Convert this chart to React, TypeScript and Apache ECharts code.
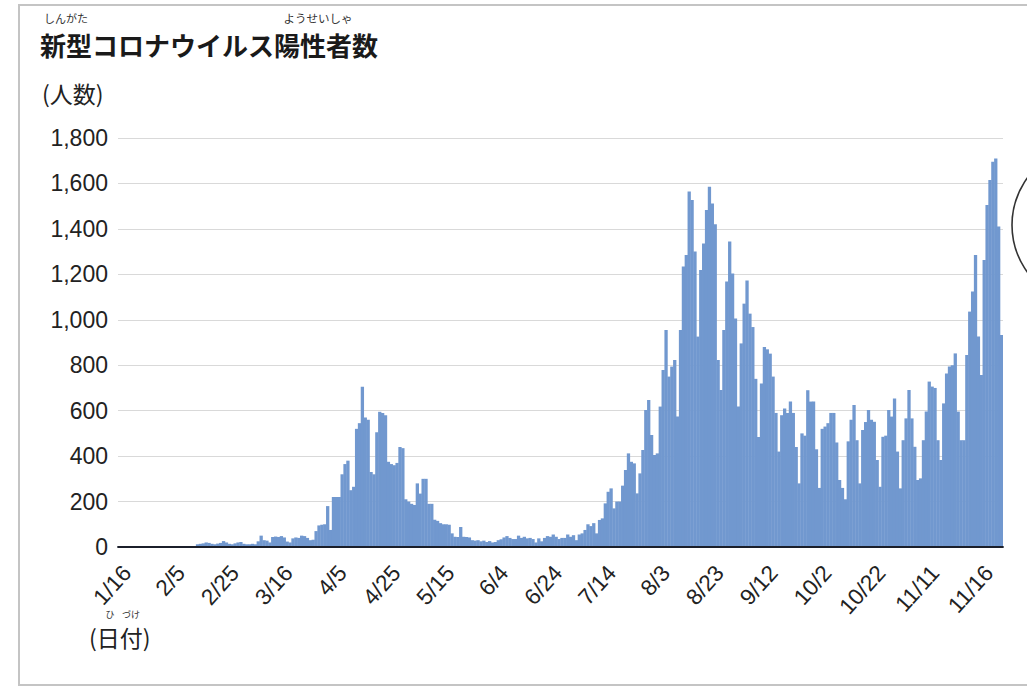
import React, { useEffect, useRef } from "react";
import * as echarts from "echarts";

// Daily new positive cases, 2020/1/16 - 2020/11/16
const jan = [1, 0, 0, 0, 0, 0, 0, 0, 1, 1, 1, 0, 2, 1, 3, 2]; // 1/16 - 1/31
const feb = [1, 0, 0, 0, 1, 0, 0, 0, 1, 0, 1, 12, 14, 16, 20, 18, 14, 12, 15, 18, 26, 20, 14, 12, 16, 20, 22, 14, 12];
const mar = [12, 14, 12, 25, 50, 30, 28, 20, 44, 46, 44, 48, 42, 24, 20, 38, 42, 40, 50, 48, 40, 30, 32, 70, 95, 98, 100, 180, 75, 220, 220];
const apr = [220, 320, 365, 380, 250, 265, 520, 545, 705, 570, 560, 330, 320, 505, 595, 590, 580, 375, 365, 360, 370, 440, 435, 210, 200, 190, 185, 280, 235, 300];
const may = [300, 190, 190, 120, 115, 105, 100, 100, 98, 60, 45, 44, 88, 45, 44, 42, 30, 28, 30, 25, 28, 22, 26, 20, 22, 30, 34, 42, 48, 40, 35];
const jun = [35, 50, 40, 45, 38, 40, 35, 20, 38, 25, 40, 48, 45, 55, 45, 35, 40, 40, 55, 45, 52, 30, 55, 60, 75, 100, 92, 105, 60, 119];
const jul = [126, 192, 243, 258, 170, 200, 200, 270, 339, 412, 375, 368, 236, 324, 427, 603, 647, 493, 405, 412, 618, 779, 955, 750, 794, 823, 574, 955, 1234, 1285, 1564];
const aug = [1527, 1300, 926, 1219, 1336, 1483, 1586, 1512, 1420, 823, 691, 955, 1168, 1344, 1204, 1006, 618, 896, 1071, 1173, 1027, 968, 740, 484, 720, 880, 870, 851, 750, 590, 420];
const sep = [580, 610, 590, 640, 590, 440, 280, 500, 490, 690, 640, 640, 430, 260, 520, 530, 545, 590, 590, 460, 295, 260, 210, 465, 560, 625, 470, 280, 515, 550];
const oct = [603, 560, 551, 383, 265, 485, 490, 603, 574, 654, 420, 258, 470, 566, 691, 566, 441, 295, 302, 470, 596, 728, 706, 700, 470, 383, 632, 764, 794, 800, 852];
const nov = [596, 470, 470, 845, 1036, 1124, 1285, 926, 757, 1263, 1505, 1615, 1696, 1710, 1410, 933]; // 11/1 - 11/16

const months = [
  { m: 1, start: 16, vals: jan },
  { m: 2, start: 1, vals: feb },
  { m: 3, start: 1, vals: mar },
  { m: 4, start: 1, vals: apr },
  { m: 5, start: 1, vals: may },
  { m: 6, start: 1, vals: jun },
  { m: 7, start: 1, vals: jul },
  { m: 8, start: 1, vals: aug },
  { m: 9, start: 1, vals: sep },
  { m: 10, start: 1, vals: oct },
  { m: 11, start: 1, vals: nov },
];

const tickLabels = ["1/16", "2/5", "2/25", "3/16", "4/5", "4/25", "5/15", "6/4", "6/24", "7/14", "8/3", "8/23", "9/12", "10/2", "10/22", "11/11", "11/16"];

const titleText = "新型コロナウイルス陽性者数";
const yName = "(人数)";
const xName = "(日付)";

const dates: string[] = [];
const values: number[] = [];
months.forEach(({ m, start, vals }) => {
  vals.forEach((v, k) => {
    dates.push(`${m}/${start + k}`);
    values.push(v);
  });
});

const JP = "'Noto Sans CJK JP', sans-serif";
const NUM = "'Liberation Sans', Arial, Helvetica, sans-serif";

export default function App() {
  const ref = useRef<HTMLDivElement>(null);
  useEffect(() => {
    const chart = echarts.init(ref.current!, null, { renderer: "svg" });
    const ruby = (text: string, x: number, y: number, size: number) => ({
      type: "text",
      x,
      y,
      silent: true,
      style: { text, fontSize: size, fontFamily: JP, fill: "#333", align: "center", verticalAlign: "middle" },
    });
    chart.setOption({
      animation: false,
      backgroundColor: "#ffffff",
      grid: [
        { left: 118, right: 24, top: 138, bottom: 140 },
        { left: 127, right: 38, top: 138, bottom: 140 },
      ],
      xAxis: [
        {
          type: "category",
          gridIndex: 0,
          data: dates,
          boundaryGap: true,
          z: 5,
          axisLine: { show: true, lineStyle: { color: "#1b1f2a", width: 1.8 } },
          axisTick: { show: false },
          axisLabel: { show: false },
          splitLine: { show: false },
        },
        {
          type: "category",
          gridIndex: 1,
          data: tickLabels,
          boundaryGap: false,
          axisLine: { show: false },
          axisTick: { show: false },
          splitLine: { show: false },
          axisLabel: { interval: 0, rotate: 48, fontSize: 22.5, color: "#222", margin: 22, fontFamily: NUM },
        },
      ],
      yAxis: [
        {
          type: "value",
          gridIndex: 0,
          min: 0,
          max: 1800,
          interval: 200,
          axisLine: { show: false },
          axisTick: { show: false },
          axisLabel: {
            fontSize: 23,
            color: "#222",
            margin: 10,
            fontFamily: NUM,
            formatter: (v: number) => v.toLocaleString("en-US"),
          },
          splitLine: { show: true, lineStyle: { color: "#d9d9d9", width: 1.2 } },
        },
        { type: "value", gridIndex: 1, show: false },
      ],
      series: [
        {
          type: "bar",
          xAxisIndex: 0,
          yAxisIndex: 0,
          data: values,
          barWidth: 3.3,
          silent: true,
          itemStyle: { color: "#7198cf" },
        },
      ],
      graphic: [
        {
          type: "rect",
          silent: true,
          z: -10,
          shape: { x: 19, y: 5, width: 1040, height: 680 },
          style: { fill: "none", stroke: "#c4c4c4", lineWidth: 2 },
        },
        {
          type: "text",
          x: 40,
          y: 44,
          silent: true,
          style: { text: titleText, fontSize: 26, fontWeight: "bold", fontFamily: JP, fill: "#1a1a1a", align: "left", verticalAlign: "middle" },
        },
        ruby("しんがた", 66, 18, 11),
        ruby("ようせいしゃ", 318, 18, 11.5),
        {
          type: "text",
          x: 42,
          y: 93,
          silent: true,
          style: { text: yName, fontSize: 23, fontFamily: JP, fill: "#222", align: "left", verticalAlign: "middle" },
        },
        {
          type: "text",
          x: 89,
          y: 637,
          silent: true,
          style: { text: xName, fontSize: 23, fontFamily: JP, fill: "#222", align: "left", verticalAlign: "middle" },
        },
        ruby("ひ", 110, 614, 9),
        ruby("づけ", 131, 614, 9),
        {
          type: "circle",
          silent: true,
          shape: { cx: 1092, cy: 225, r: 80 },
          style: { fill: "none", stroke: "#333", lineWidth: 1.6 },
        },
      ],
    });
    return () => chart.dispose();
  }, []);
  return (
    <div
      ref={ref}
      style={{ position: "fixed", left: 0, top: 0, width: 1027, height: 687, background: "#fff" }}
    />
  );
}
